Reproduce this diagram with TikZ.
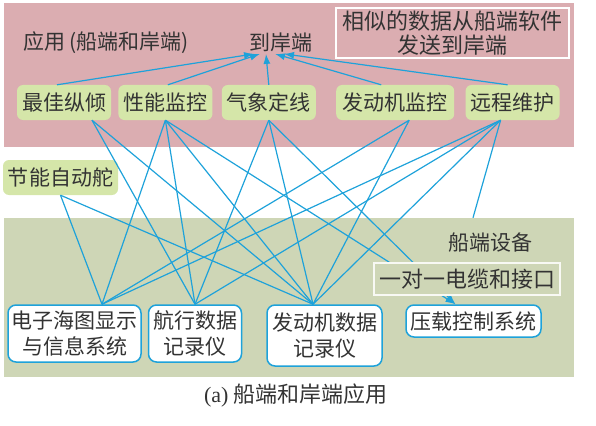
\documentclass[tikz,border=0pt]{standalone}
\usepackage{fontspec}
\setmainfont{Liberation Serif}
\newfontfamily\cjk{Noto Sans CJK SC}
\usetikzlibrary{positioning, arrows.meta, calc}
\definecolor{cShore}{HTML}{DBADB1}
\definecolor{cShip}{HTML}{CED6B6}
\definecolor{cApp}{HTML}{D5E6A9}
\definecolor{cLink}{HTML}{1EA2DA}
\definecolor{cInk}{HTML}{333333}

\begin{document}
\begin{tikzpicture}[x=1pt,y=-1pt,font=\cjk\fontsize{21}{24}\selectfont,text=cInk,
  band/.style={inner sep=0pt,minimum width=570pt},
  lbl/.style={inner sep=1pt},
  app/.style={fill=cApp,rounded corners=6pt,minimum height=35pt,inner xsep=5pt,inner ysep=0pt},
  dev/.style={draw=cLink,line width=1.5pt,fill=white,rounded corners=8pt,align=center,inner xsep=2pt,inner ysep=2pt,font=\cjk\fontsize{21}{26}\selectfont},
  note/.style={draw=white,line width=1.5pt,align=center,inner sep=2pt},
  link/.style={draw=cLink,line width=1.2pt},
  arr/.style={link,-{Latex[length=10pt,width=7pt]}}]
  \useasboundingbox (0,0) rectangle (596,425);
  \node[band, fill=cShore, minimum height=144pt] (shoreapp) at (289,75) {};
  \node[band, fill=cShip, minimum height=159pt] (ship) at (289,297.5) {};
  \node[lbl] (apps) at (106,43) {应用 (船端和岸端)};
  \node[lbl] (shore) at (281,43) {到岸端};
  \node[note, minimum width=233pt, minimum height=50pt, font=\cjk\fontsize{22}{24}\selectfont] (same) at (452.5,33) {相似的数据从船端软件\\发送到岸端};
  \node[app, minimum width=94pt] (trim) at (64,102.5) {最佳纵倾};
  \node[app, minimum width=91pt, right=7pt of trim] (perf) {性能监控};
  \node[app, minimum width=91pt, right=9pt of perf] (wthr) {气象定线};
  \node[app, minimum width=118pt, right=20pt of wthr] (eng) {发动机监控};
  \node[app, minimum width=94pt, right=11pt of eng] (rmt) {远程维护};
  \node[app, minimum width=115pt] (asap) at (60.5,177.5) {节能自动舵};
  \node[dev, minimum width=133pt, minimum height=57pt] (ecdis) at (74.5,333.5) {电子海图显示\\与信息系统};
  \node[dev, minimum width=93pt, minimum height=57pt, right=6pt of ecdis] (vdr) {航行数据\\记录仪};
  \node[dev, minimum width=115pt, minimum height=61pt] (edr) at (324.5,335.5) {发动机数据\\记录仪};
  \node[dev, minimum width=135pt, minimum height=32pt] (ballast) at (473.5,321) {压载控制系统};
  \coordinate (trimOut) at ($(trim.south)+(28,0)$);
  \coordinate (engOut) at ($(eng.south)+(14,0)$);
  \coordinate (rmtOut) at ($(rmt.south)+(-12,0)$);
  \coordinate (ecdisIn) at ($(ecdis.north)+(27.5,0)$);
  \coordinate (edrIn) at ($(edr.north)+(-11.5,0)$);
  \coordinate (ballastIn) at ($(ballast.north)+(-18,0)$);
  \coordinate (shipIn) at ($(ship.north)+(184,0)$);
  % to shore
  \draw[arr] ($(trim.north)+(-7,0)$) -- ($(shore.south)+(-27,0)$); \draw[arr] ($(perf.north)+(2.5,0)$) -- ($(shore.south)+(-21,0)$); \draw[arr] (wthr.north) -- ($(shore.south)+(-15,0)$); \draw[arr] ($(eng.north)+(-14,0)$) -- ($(shore.south)+(-6,0)$); \draw[arr] ($(rmt.north)+(-5,0)$) -- ($(shore.south)+(3,0)$);
  % applications to ship equipment
  \draw[link] (asap.south) -- (ecdisIn); \draw[link] (asap.south) -- (edrIn);
  \draw[link] (trimOut) -- (vdr.north); \draw[link] (trimOut) -- (edrIn);
  \draw[link] (perf.south) -- (ecdisIn); \draw[link] (perf.south) -- (vdr.north); \draw[link] (perf.south) -- (edrIn); \draw[arr] (perf.south) -- (ballastIn);
  \draw[link] (wthr.south) -- (vdr.north); \draw[link] (wthr.south) -- (edrIn); \draw[arr] (wthr.south) -- (ballastIn);
  \draw[link] (engOut) -- (ecdisIn); \draw[link] (engOut) -- (edrIn);
  \draw[link] (rmtOut) -- (ecdisIn); \draw[link] (rmtOut) -- (vdr.north); \draw[link] (rmtOut) -- (edrIn); \draw[link] (rmtOut) -- (shipIn);
  \node[lbl] (shipeq) at (490,243) {船端设备};
  \node[note, fill=cShip, draw=white!85!cShip, minimum width=186pt, minimum height=32pt, font=\cjk\fontsize{22}{24}\selectfont] (cable) at (467,279) {一对一电缆和接口};
  \node[lbl, font=\rmfamily\fontsize{22}{24}\selectfont] (caption) at (296,396) {(a) {\cjk 船端和岸端应用}};
\end{tikzpicture}
\end{document}
